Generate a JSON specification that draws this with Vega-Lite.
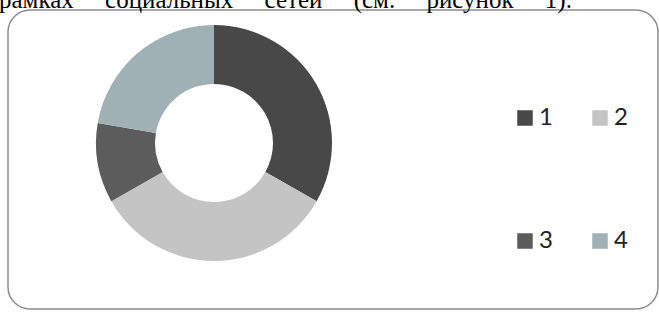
{
  "$schema": "https://vega.github.io/schema/vega-lite/v6.json",
  "width": 650,
  "height": 299,
  "autosize": {"type": "none"},
  "padding": {"left": 8, "top": 10, "right": 1, "bottom": 5},
  "background": "white",
  "view": {"stroke": "#8c8c8c", "strokeWidth": 1.5, "cornerRadius": 22, "fill": null},
  "title": {
    "text": "рамках\u2003 социальных\u2003 сетей\u2003 (см.\u2003 рисунок\u2003 1).",
    "anchor": "start",
    "frame": "group",
    "font": "Liberation Serif",
    "fontSize": 25,
    "fontWeight": "normal",
    "color": "#000000",
    "baseline": "alphabetic",
    "offset": 0,
    "dy": 23,
    "dx": -9
  },
  "data": {
    "values": [
      {"category": "1", "value": 33.2},
      {"category": "2", "value": 33.6},
      {"category": "3", "value": 10.9},
      {"category": "4", "value": 22.3}
    ]
  },
  "mark": {"type": "arc", "outerRadius": 118, "innerRadius": 59, "x": 206, "y": 133},
  "encoding": {
    "theta": {"field": "value", "type": "quantitative", "stack": true},
    "color": {
      "field": "category",
      "type": "nominal",
      "scale": {"domain": ["1", "2", "3", "4"], "range": ["#484848", "#c4c4c4", "#5c5c5c", "#9fb1b5"]},
      "legend": {
        "title": null,
        "orient": "none",
        "legendX": 505,
        "legendY": 96,
        "columns": 2,
        "direction": "horizontal",
        "symbolType": "square",
        "symbolSize": 240,
        "symbolStrokeWidth": 0,
        "labelFont": "Lato",
        "labelFontSize": 24,
        "labelColor": "#222222",
        "labelOffset": 2,
        "columnPadding": 35,
        "rowPadding": 99,
        "padding": 0
      }
    }
  },
  "config": {
    "view": {"stroke": "#8c8c8c", "strokeWidth": 1.5, "cornerRadius": 22}
  }
}
